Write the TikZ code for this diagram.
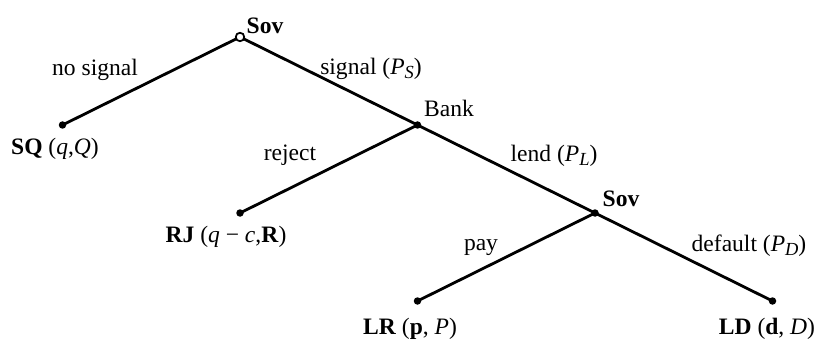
\documentclass[tikz,border=0pt]{standalone}
\usepackage{fontspec}
\setmainfont{Liberation Serif}
\usepackage{tikz}
\usetikzlibrary{positioning}

\tikzset{
  branch/.style={line width=1.6pt},
  move/.style={circle, fill=black, inner sep=0pt, minimum size=0.15cm},
  start/.style={circle, draw=black, line width=1pt, fill=white, inner sep=0pt, minimum size=0.17cm},
  lbl/.style={inner sep=0pt}
}
\newcommand{\sbs}[1]{\raisebox{-0.35ex}{\fontsize{10.5}{12}\selectfont\textit{#1}}}

\begin{document}
\begin{tikzpicture}[font=\fontsize{13.4}{16}\selectfont]
  \useasboundingbox (0,0) rectangle (16.34,6.78);
  % --- Decision nodes ---
  \node[move] (sq)   at (1.25, 4.28) {};
  \node[move] (bank) at (8.35, 4.28) {};
  \node[move] (rj)   at (4.80, 2.52) {};
  \node[move] (sov2) at (11.90, 2.52) {};
  \node[move] (lr)   at (8.35, 0.76) {};
  \node[move] (ld)   at (15.45, 0.76) {};
  % Branches
  \draw[branch] (4.80, 6.04) coordinate (sov1) -- (sq.center);
  \draw[branch] (sov1) -- (bank.center);
  \draw[branch] (bank.center) -- (rj.center);
  \draw[branch] (bank.center) -- (sov2.center);
  \draw[branch] (sov2.center) -- (lr.center);
  \draw[branch] (sov2.center) -- (ld.center);
  \node[start] (root) at (sov1) {};

  % --- Players ---
  \node[lbl, font=\fontsize{13.4}{16}\selectfont\bfseries] (sovtxt) at (5.30, 6.26) {Sov};
  \node[lbl] (banktxt) at (8.98, 4.62) {Bank};
  \node[lbl, font=\fontsize{13.4}{16}\selectfont\bfseries] (sovtxt2) at (12.42, 2.80) {Sov};

  % --- Actions ---
  \node[lbl] (nosig)  at (1.90, 5.38) {no signal};
  \node[lbl] (sig)    at (7.42, 5.40) {signal (\textit{P}\sbs{S})};
  \node[lbl] (rej)    at (5.80, 3.68) {reject};
  \node[lbl] (lend)   at (11.08, 3.66) {lend (\textit{P}\sbs{L})};
  \node[lbl] (pay)    at (9.62, 1.84) {pay};
  \node[lbl] (dflt)   at (14.98, 1.86) {default (\textit{P}\sbs{D})};

  % --- Outcomes ---
  \node[lbl] (sqtxt) at (1.10, 3.80) {\textbf{SQ} (\textit{q},\textit{Q})};
  \node[lbl] (rjtxt) at (4.52, 2.04) {\textbf{RJ} (\textit{q} − \textit{c},\textbf{R})};
  \node[lbl] (lrtxt) at (8.20, 0.20) {\textbf{LR} (\textbf{p}, \textit{P})};
  \node[lbl] (ldtxt) at (15.34, 0.20) {\textbf{LD} (\textbf{d}, \textit{D})};
\end{tikzpicture}
\end{document}
